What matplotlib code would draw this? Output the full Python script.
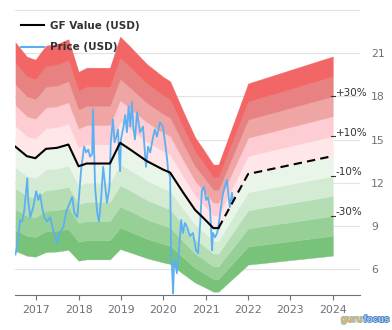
import matplotlib
matplotlib.use("Agg")
import matplotlib.pyplot as plt
import matplotlib.patheffects as pe
from matplotlib.lines import Line2D
import numpy as np

# ---- data ----
gf_years = [2016.51, 2016.78, 2016.98, 2017.23, 2017.49, 2017.76, 2018.00, 2018.19,
            2018.74, 2018.98, 2019.22, 2019.61, 2020.00, 2020.16, 2020.47, 2020.75,
            2020.94, 2021.18, 2021.30]
gf_values = [14.5, 13.84, 13.7, 14.35, 14.42, 14.65, 13.14, 13.33,
             13.33, 14.77, 14.3, 13.5, 12.9, 12.7, 11.3, 10.1,
             9.56, 8.84, 8.84]
proj_years = [2021.30, 2022.0, 2024.0]
proj_values = [8.84, 12.6, 13.85]

price_years = [2016.51, 2016.53, 2016.58, 2016.62, 2016.67, 2016.72, 2016.79, 2016.81,
               2016.86, 2016.93, 2017.00, 2017.05, 2017.09, 2017.14, 2017.19, 2017.26,
               2017.33, 2017.40, 2017.49, 2017.57, 2017.64, 2017.71, 2017.78, 2017.85,
               2017.90, 2017.97, 2018.01, 2018.06, 2018.13, 2018.18, 2018.23, 2018.27,
               2018.32, 2018.34, 2018.39, 2018.44, 2018.48, 2018.53, 2018.58, 2018.67,
               2018.73, 2018.76, 2018.81, 2018.85, 2018.89, 2018.93, 2018.96, 2018.98,
               2019.00, 2019.06, 2019.10, 2019.14, 2019.18, 2019.22, 2019.26, 2019.29,
               2019.33, 2019.38, 2019.45, 2019.52, 2019.59, 2019.64, 2019.69, 2019.76,
               2019.80, 2019.85, 2019.92, 2019.99, 2020.04, 2020.09, 2020.11, 2020.16,
               2020.18, 2020.21, 2020.23, 2020.25, 2020.28, 2020.32, 2020.37, 2020.42,
               2020.46, 2020.51, 2020.56, 2020.63, 2020.70, 2020.77, 2020.82, 2020.87,
               2020.91, 2020.96, 2021.01, 2021.05, 2021.10, 2021.15, 2021.17, 2021.22,
               2021.27, 2021.31, 2021.36, 2021.41, 2021.45, 2021.50, 2021.53, 2021.57,
               2021.62, 2021.64]
price_values = [7.0, 7.3, 8.2, 9.4, 9.3, 10.1, 12.3, 10.8,
                9.6, 10.3, 11.4, 10.8, 11.2, 10.3, 9.6, 9.3,
                9.6, 8.7, 7.8, 8.6, 8.9, 10.0, 10.5, 11.0,
                9.9, 9.6, 11.0, 12.9, 14.5, 14.1, 14.3, 13.8,
                14.0, 17.1, 11.7, 9.9, 9.3, 10.8, 13.1, 10.6,
                11.7, 14.8, 16.4, 14.8, 15.2, 15.7, 13.6, 12.8,
                15.0, 15.9, 16.7, 15.5, 17.3, 15.9, 17.6, 15.9,
                15.0, 16.9, 15.5, 15.9, 13.1, 14.5, 14.1, 15.2,
                15.7, 15.2, 16.2, 15.9, 14.8, 13.6, 12.9, 12.4,
                7.5, 5.7, 4.3, 6.1, 6.6, 5.7, 7.3, 9.4,
                8.5, 9.2, 8.9, 8.3, 8.5, 7.3, 7.1, 9.2,
                11.5, 11.7, 10.8, 11.0, 10.3, 7.3, 8.5, 8.2,
                8.5, 9.2, 10.3, 11.3, 11.7, 12.2, 11.3, 10.3,
                11.3, 10.8]

band_multipliers = [0.5, 0.6, 0.7, 0.8, 0.9, 1.0, 1.1, 1.2, 1.3, 1.4, 1.5]
band_colors = ['#79c279', '#97d097', '#b4ddb4', '#d2ebd2', '#eaf5ea',
               '#fee6e9', '#fdcdd3', '#f0a5a5', '#e88282', '#f26666']
band_labels = ['+30%', '+10%', '-10%', '-30%']
band_label_mult = [1.3, 1.1, 0.9, 0.7]

year_ticks = [2017, 2018, 2019, 2020, 2021, 2022, 2023, 2024]
y_ticks = [6, 9, 12, 15, 18, 21]
grid_levels = [6, 9, 12, 15, 18, 21, 24]

# ---- figure ----
fig = plt.figure(figsize=(3.92, 3.30), dpi=100)
ax = fig.add_axes([15/392, 1-295/330, 345/392, (295-8.6)/330])
ax.set_xlim(2016.5, 2024.64)
ax.set_ylim(4.19, 24.1)

for g in grid_levels:
    ax.axhline(g, color='#e3e3e3', lw=0.8, zorder=0)

bx = np.array(gf_years[:-1] + proj_years)
bv = np.array(gf_values[:-1] + proj_values)
for i in range(len(band_multipliers) - 1):
    ax.fill_between(bx, bv * band_multipliers[i], bv * band_multipliers[i + 1],
                    facecolor=band_colors[i], edgecolor=band_colors[i], lw=0.25, zorder=1)

ax.plot(price_years, price_values, color='#5cb0f2', lw=1.3, zorder=3)
ax.plot(gf_years, gf_values, color='black', lw=1.5, zorder=4)
ax.plot(proj_years, proj_values, color='black', lw=1.5, ls=(0, (4, 2.5)), zorder=4)

last = proj_values[-1]
for lab, m in zip(band_labels, band_label_mult):
    yv = last * m
    ax.plot([2023.95, 2024.05], [yv, yv], color='#333333', lw=0.8, zorder=5, clip_on=False)
    ax.annotate(lab, (2024.07, yv), xytext=(0, 2.5), textcoords='offset points',
                ha='left', va='center', fontsize=7.5, color='#333333', zorder=6)

for s in ['top', 'left', 'right']:
    ax.spines[s].set_visible(False)
ax.spines['bottom'].set_color('#6e7079')
ax.spines['bottom'].set_linewidth(0.8)

ax.set_xticks(year_ticks)
ax.set_xticklabels([str(y) for y in year_ticks])
ax.tick_params(axis='x', length=3.6, width=0.8, color='#6e7079', labelcolor='#6e7079',
               labelsize=7.8, pad=3.5)
ax.yaxis.tick_right()
ax.set_yticks(y_ticks)
ax.set_yticklabels([str(y) for y in y_ticks])
ax.tick_params(axis='y', length=0, labelcolor='#6e7079', labelsize=7.8, pad=8)

handles = [Line2D([], [], color='black', lw=1.5), Line2D([], [], color='#5cb0f2', lw=1.5)]
leg = ax.legend(handles, ['GF Value (USD)', 'Price (USD)'], loc='upper left',
                bbox_to_anchor=(21/392, 1-21/330), bbox_transform=fig.transFigure,
                frameon=False, handlelength=2.2, handletextpad=0.6, labelspacing=1.1,
                borderpad=0, borderaxespad=0,
                prop={'weight': 'bold', 'size': 7.5})
for t in leg.get_texts():
    t.set_color('#333333')

logo_font = dict(family='Liberation Sans', fontsize=7, fontweight='bold')
t1 = fig.text(341/392, 1-319/330, 'guru', color='#f2b632', ha='left', va='center',
              path_effects=[pe.withStroke(linewidth=1.2, foreground='#9dbbe0')], **logo_font)
fig.canvas.draw()
bb = t1.get_window_extent()
fig.text((bb.x1 + 0.5) / fig.bbox.width, 1-319/330, 'focus', color='#a9c9ee',
         ha='left', va='center',
         path_effects=[pe.withStroke(linewidth=1.2, foreground='#4f86c6')], **logo_font)

fig.savefig('out.png', dpi=100)
